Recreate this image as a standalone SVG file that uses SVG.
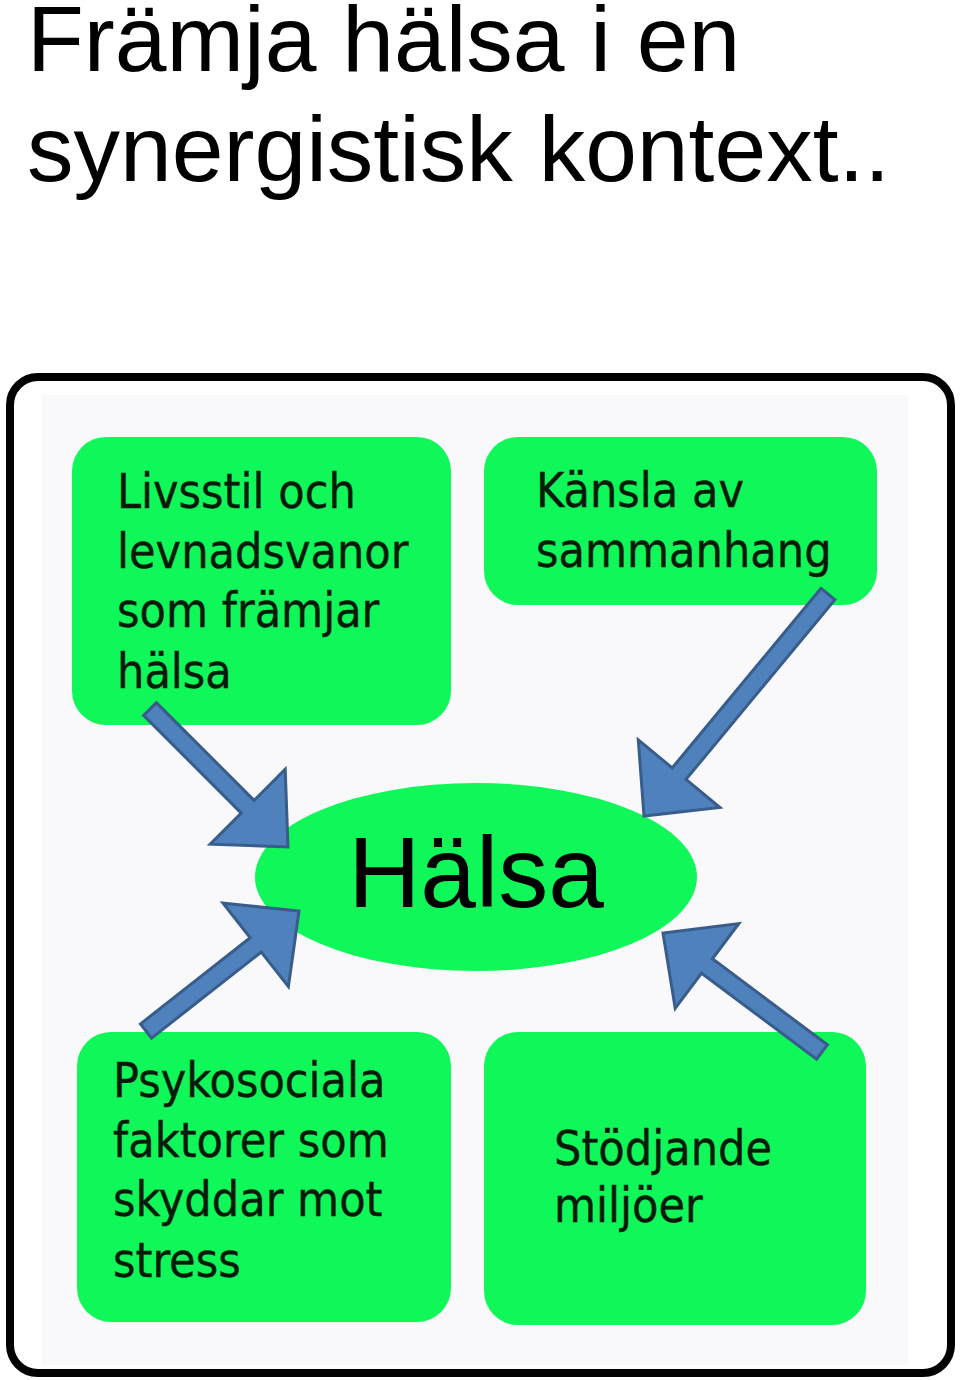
<svg xmlns="http://www.w3.org/2000/svg" width="960" height="1380" viewBox="0 0 960 1380">
<style>
.title{font-family:"Liberation Sans",Arial,sans-serif;font-size:93px;fill:#000}
.box{fill:#10f75a}
.lbl{font-family:"DejaVu Sans Condensed","DejaVu Sans",sans-serif;font-size:48px;fill:#061a0a;stroke:#061a0a;stroke-width:0.4}
.big{font-family:"Liberation Sans",Arial,sans-serif;font-size:100px;fill:#000}
.arrow{fill:#4f81bd;stroke:#385d8a;stroke-width:3;stroke-linejoin:miter}
</style>
<rect width="960" height="1380" fill="#fff"/>
<text class="title" x="27" y="71">Främja hälsa i en</text>
<text class="title" x="27" y="181">synergistisk kontext..</text>
<g id="frame">
<rect x="10" y="377" width="941" height="996" rx="28" ry="28" fill="#fff" stroke="#000" stroke-width="8"/>
<rect x="42" y="395" width="866" height="970" fill="#f9f9fb"/>
</g>
<g id="node-livsstil">
<rect class="box" x="72" y="437" width="379" height="288" rx="34"/>
<text class="lbl" x="117" y="508">Livsstil och</text>
<text class="lbl" x="117" y="568">levnadsvanor</text>
<text class="lbl" x="117" y="627">som främjar</text>
<text class="lbl" x="117" y="688">hälsa</text>
</g>
<g id="node-kansla">
<rect class="box" x="484" y="437" width="393" height="168" rx="34"/>
<text class="lbl" x="536" y="507">Känsla av</text>
<text class="lbl" x="536" y="567">sammanhang</text>
</g>
<g id="node-halsa">
<ellipse class="box" cx="476" cy="877" rx="221" ry="94"/>
<text class="big" x="476" y="907" text-anchor="middle">Hälsa</text>
</g>
<g id="node-psykosociala">
<rect class="box" x="77" y="1032" width="374" height="290" rx="34"/>
<text class="lbl" x="113" y="1097">Psykosociala</text>
<text class="lbl" x="113" y="1157">faktorer som</text>
<text class="lbl" x="113" y="1216">skyddar mot</text>
<text class="lbl" x="113" y="1277">stress</text>
</g>
<g id="node-stodjande">
<rect class="box" x="484" y="1032" width="382" height="293" rx="34"/>
<text class="lbl" x="554" y="1165">Stödjande</text>
<text class="lbl" x="554" y="1222">miljöer</text>
</g>
<g id="connectors">
<polygon class="arrow" points="143.6,715.4 241.3,813.1 210.2,844.2 288,847 285.2,769.2 254.1,800.4 156.4,702.6"/>
<polygon class="arrow" points="821.1,588.3 672.2,767.9 638.3,739.9 644,816 719.9,807.5 686,779.4 834.9,599.7"/>
<polygon class="arrow" points="151.6,1038.1 261.3,952 288.4,986.6 299,911 223,903.2 250.2,937.8 140.5,1023.9"/>
<polygon class="arrow" points="827.4,1044.8 712.4,958.8 738.8,923.6 663,933 675.2,1008.4 701.6,973.2 816.6,1059.2"/>
</g>
</svg>
